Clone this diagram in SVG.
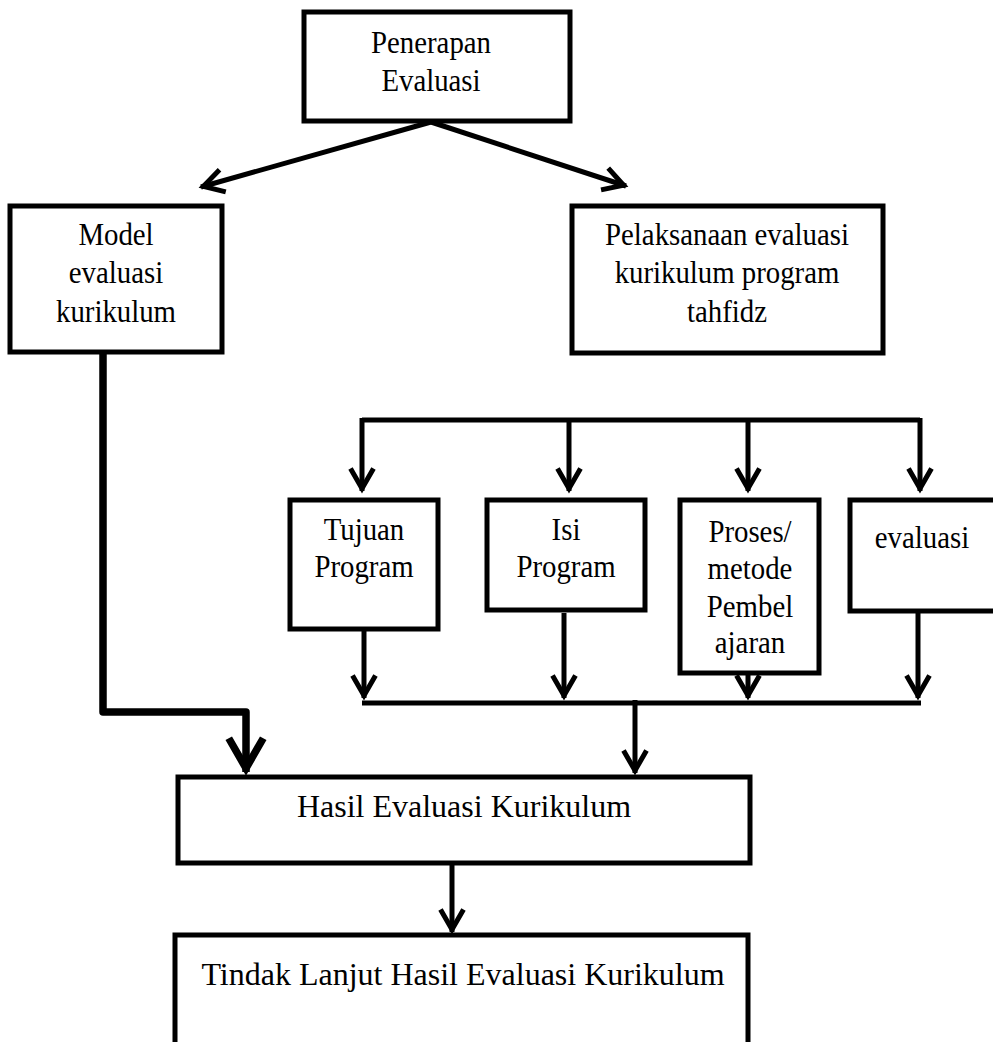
<svg xmlns="http://www.w3.org/2000/svg" width="993" height="1042" viewBox="0 0 993 1042">
<style>
.box{fill:#fff;stroke:#000;stroke-width:5}
.t{font-family:"Liberation Serif","Times New Roman",serif;font-size:32px;fill:#000;text-anchor:middle}
.ln{fill:none;stroke:#000;stroke-width:5}
.arr{fill:none;stroke:#000;stroke-width:5;marker-end:url(#ah)}
.thick{fill:none;stroke:#000;stroke-width:7.5;stroke-linejoin:round;marker-end:url(#ah)}
</style>
<defs>
<marker id="ah" markerUnits="strokeWidth" viewBox="-5 -3 6 6" markerWidth="6" markerHeight="6" refX="0.5" refY="0" orient="auto" overflow="visible">
<path d="M-4,-2.3 L0,0 L-4,2.3" fill="none" stroke="#000" stroke-width="1"/>
</marker>
</defs>

<g id="connectors">
<path class="arr" d="M431,122 L201,187"/>
<path class="arr" d="M431,122 L626,186"/>
<path class="thick" d="M103,354 L103,712 L246,712 L246,772"/>
<path class="ln" d="M362,420 L920,420"/>
<path class="arr" d="M362,418 L362,491"/>
<path class="arr" d="M569,420 L569,491"/>
<path class="arr" d="M748,420 L748,491"/>
<path class="arr" d="M920,418 L920,491"/>
<path class="arr" d="M364,631 L364,698"/>
<path class="arr" d="M564,613 L564,698"/>
<path class="arr" d="M748,675 L748,698"/>
<path class="arr" d="M918,612 L918,698"/>
<path class="ln" d="M362,703 L921,703"/>
<path class="arr" d="M635,700 L635,773"/>
<path class="arr" d="M452,865 L452,932"/>
</g>

<g id="n-penerapan">
<rect class="box" x="304" y="12" width="266" height="109"/>
<text class="t" transform="translate(431 0) scale(0.9 1)"><tspan x="0" y="53">Penerapan</tspan><tspan x="0" y="91">Evaluasi</tspan></text>
</g>

<g id="n-model">
<rect class="box" x="10" y="206" width="212" height="146"/>
<text class="t" transform="translate(116 0) scale(0.9 1)"><tspan x="0" y="245">Model</tspan><tspan x="0" y="283">evaluasi</tspan><tspan x="0" y="322">kurikulum</tspan></text>
</g>

<g id="n-pelaksanaan">
<rect class="box" x="572" y="206" width="311" height="147"/>
<text class="t" transform="translate(727 0) scale(0.9 1)"><tspan x="0" y="245">Pelaksanaan evaluasi</tspan><tspan x="0" y="283">kurikulum program</tspan><tspan x="0" y="322">tahfidz</tspan></text>
</g>

<g id="n-tujuan">
<rect class="box" x="290" y="500" width="148" height="129"/>
<text class="t" transform="translate(364 0) scale(0.9 1)"><tspan x="0" y="540">Tujuan</tspan><tspan x="0" y="577">Program</tspan></text>
</g>

<g id="n-isi">
<rect class="box" x="487" y="500" width="158" height="110"/>
<text class="t" transform="translate(566 0) scale(0.9 1)"><tspan x="0" y="540">Isi</tspan><tspan x="0" y="577">Program</tspan></text>
</g>

<g id="n-proses">
<rect class="box" x="680" y="500" width="139" height="173"/>
<text class="t" transform="translate(750 0) scale(0.9 1)"><tspan x="0" y="542">Proses/</tspan><tspan x="0" y="579">metode</tspan><tspan x="0" y="617">Pembel</tspan><tspan x="0" y="653">ajaran</tspan></text>
</g>

<g id="n-evaluasi">
<rect class="box" x="850" y="500" width="160" height="111"/>
<text class="t" transform="translate(922 0) scale(0.9 1)"><tspan x="0" y="548">evaluasi</tspan></text>
</g>

<g id="n-hasil">
<rect class="box" x="178" y="777" width="572" height="86"/>
<text class="t" x="464" y="817">Hasil Evaluasi Kurikulum</text>
</g>

<g id="n-tindak">
<rect class="box" x="175" y="935" width="573" height="130"/>
<text class="t" x="463" y="985">Tindak Lanjut Hasil Evaluasi Kurikulum</text>
</g>
</svg>
